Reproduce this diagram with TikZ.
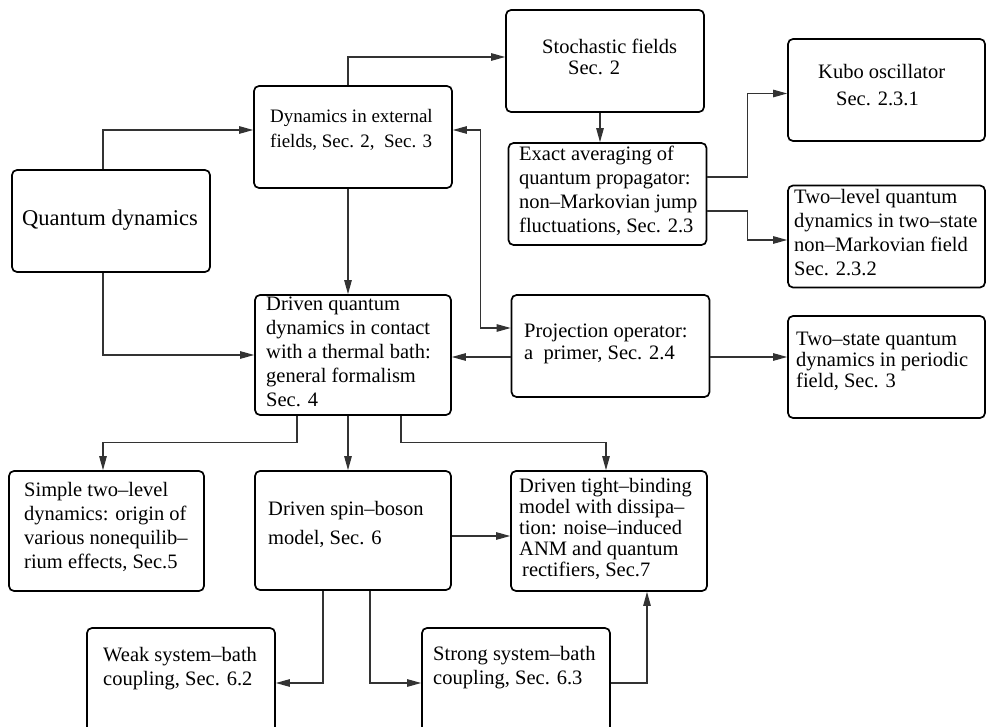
\documentclass[tikz,border=0pt]{standalone}
\usepackage{fontspec}
\setmainfont{Liberation Serif}
\usetikzlibrary{arrows.meta}
\usetikzlibrary{calc}

\tikzset{
  blk/.style={draw, line width=1.7pt, rounded corners=5pt, minimum width=198pt, minimum height=102pt, inner sep=0pt},
  txt/.style={anchor=north west, inner sep=0pt, align=left, font=\fontsize{20.5}{24}\selectfont, execute at begin node={\rule{0pt}{16pt}}},
  arr/.style={draw=black!80, line width=1.1pt, -{Triangle[length=14pt,width=7.5pt]}},
  arrtwo/.style={draw=black!80, line width=1.1pt, {Triangle[length=14pt,width=7.5pt]}-{Triangle[length=14pt,width=7.5pt]}}
}

\begin{document}
\begin{tikzpicture}[x=1pt,y=-1pt]
    \useasboundingbox (0,0) rectangle (986,727);

    % Boites
    \node[blk] (qd) at (111,221) {};
    \node[blk] (ext) at (353,137) {};
    \node[blk] (stoch) at (605,61) {};
    \node[blk] (exact) at (607.5,194) {};
    \node[blk, minimum width=197pt] (kubo) at (886.5,90) {};
    \node[blk, minimum width=197pt] (twolev) at (886.5,236.5) {};
    \node[blk, minimum width=196pt, minimum height=120pt] (driven) at (353,355) {};
    \node[blk] (proj) at (610.5,346) {};
    \node[blk, minimum width=197pt] (twostate) at (886.5,367) {};
    \node[blk, minimum width=195pt, minimum height=120pt] (simple) at (106.5,531) {};
    \node[blk, minimum width=196pt, minimum height=119pt] (spin) at (353,530.5) {};
    \node[blk, minimum width=196pt, minimum height=120pt] (tight) at (609,531) {};
    \node[blk, minimum width=188pt, minimum height=104pt] (weak) at (181,680) {};
    \node[blk, minimum width=188pt, minimum height=104pt] (strong) at (516,680) {};

    % Textes
    \node[txt, font=\fontsize{22.5}{26}\selectfont] (tqd) at (22,209) {Quantum dynamics};
    \node[txt, font=\fontsize{19}{25}\selectfont] (text) at (270,109) {Dynamics in external\\fields, Sec. 2,\ \ Sec. 3};
    \node[txt] (tstoch) at (542,39) {Stochastic fields\\[-3pt]\hspace*{26pt}Sec. 2};
    \node[txt] (texact) at (519,146) {Exact averaging of\\quantum propagator:\\non--Markovian jump\\fluctuations, Sec. 2.3};
    \node[txt] (tkubo) at (818,64) {Kubo oscillator\\[3pt]\hspace*{18pt}Sec. 2.3.1};
    \node[txt] (ttwolev) at (794,189) {Two--level quantum\\dynamics in two--state\\non--Markovian field\\Sec. 2.3.2};
    \node[txt] (tdriven) at (266,297) {Driven quantum\\dynamics in contact\\with a thermal bath:\\general formalism\\Sec. 4};
    \node[txt] (tproj) at (524,324) {Projection operator:\\[-2pt]a\ \ primer, Sec. 2.4};
    \node[txt] (ttwostate) at (796,332) {Two--state quantum\\[-3pt]dynamics in periodic\\[-3pt]field, Sec. 3};
    \node[txt] (tsimple) at (24,482) {Simple two--level\\dynamics: origin of\\various nonequilib--\\rium effects, Sec.5};
    \node[txt] (tspin) at (268,501) {Driven spin--boson\\[5pt]model, Sec. 6};
    \node[txt] (ttight) at (519,478) {Driven tight--binding\\[-3pt]model with dissipa--\\[-3pt]tion: noise--induced\\[-3pt]ANM and quantum\\[-3pt]\hspace*{3pt}rectifiers, Sec.7};
    \node[txt] (tweak) at (103,647) {Weak system--bath\\coupling, Sec. 6.2};
    \node[txt] (tstrong) at (433,646) {Strong system--bath\\coupling, Sec. 6.3};

    % Liaisons du haut
    \draw[arr] ([xshift=-8pt]qd.north) |- ([yshift=7pt]ext.west);
    \draw[arr] ([xshift=-8pt]qd.south) |- (driven.west);
    \draw[arr] ([xshift=-5pt]ext.north) |- ([yshift=4pt]stoch.west);
    \draw[arr] ([xshift=-5pt]ext.south) -- ([xshift=-5pt]driven.north);
    \draw[arr] ([xshift=-5pt]stoch.south) -- ([xshift=-5pt]stoch.south |- exact.north);
    \draw[arr] ([yshift=17pt]exact.east) -- ++(40,0) |- ([yshift=-3.5pt]kubo.west);
    \draw[arr] ([yshift=-17pt]exact.east) -- ++(40,0) |- ([yshift=-3.5pt]twolev.west);
    \draw[arrtwo] ([yshift=7pt]ext.east) -- ++(28,0) |- ([yshift=18pt]proj.west);
    \draw[arr] ([yshift=-11pt]proj.west) -- ([yshift=-11pt]proj.west -| driven.east);
    \draw[arr] ([yshift=-11pt]proj.east) -- ([yshift=-11pt]proj.east -| twostate.west);

    % Liaisons du bas
    \draw[arr] ([xshift=-56pt]driven.south) -- ++(0,27) -| ([xshift=-3.5pt]simple.north);
    \draw[arr] ([xshift=-5pt]driven.south) -- ([xshift=-5pt]spin.north);
    \draw[arr] ([xshift=48pt]driven.south) -- ++(0,27) -| ([xshift=-3pt]tight.north);
    \draw[arr] ([yshift=-5.5pt]spin.east) -- ([yshift=-5.5pt]spin.east -| tight.west);
    \draw[arr] ([xshift=-30pt]spin.south) |- ([yshift=-3pt]weak.east);
    \draw[arr] ([xshift=17pt]spin.south) |- ([yshift=-3pt]strong.west);
    \draw[arr] ([yshift=-3pt]strong.east) -| ([xshift=38pt]tight.south);
\end{tikzpicture}
\end{document}
